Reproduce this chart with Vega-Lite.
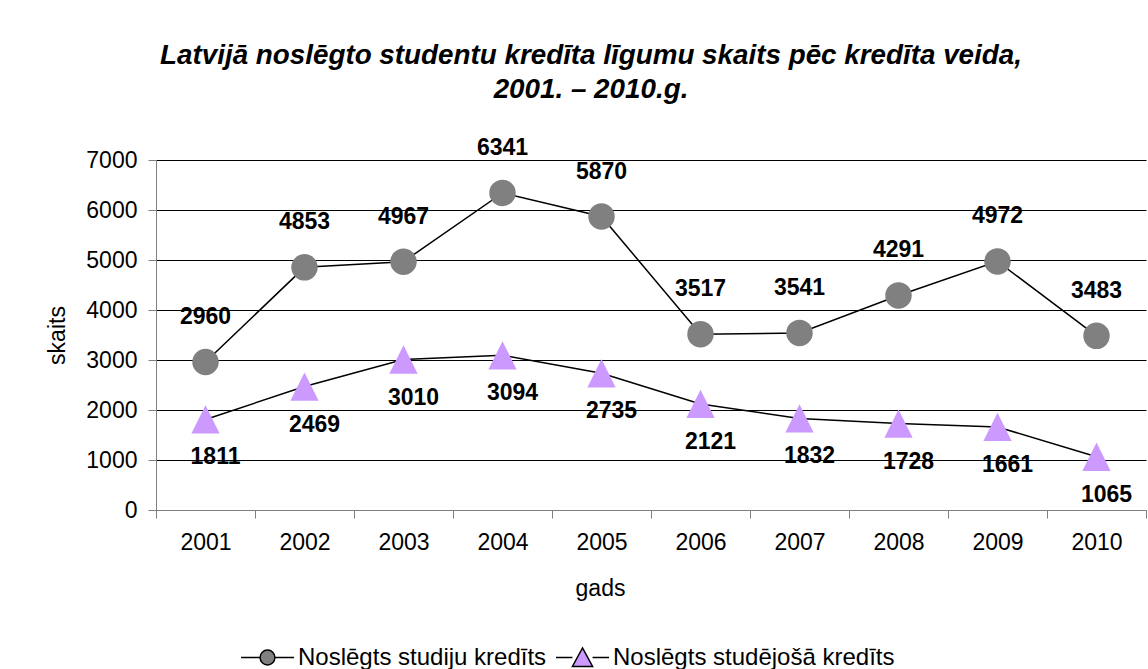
{
  "$schema": "https://vega.github.io/schema/vega-lite/v6.json",
  "width": 990,
  "height": 350,
  "autosize": {"type": "none"},
  "padding": {"left": 156, "top": 160, "right": 2, "bottom": 159},
  "background": "white",
  "config": {
    "font": "Liberation Sans",
    "view": {"stroke": null}
  },
  "title": {
    "text": ["Latvijā noslēgto studentu kredīta līgumu skaits pēc kredīta veida,", "2001. – 2010.g."],
    "font": "Liberation Sans",
    "fontSize": 27.8,
    "fontStyle": "italic",
    "fontWeight": "bold",
    "color": "black",
    "lineHeight": 34,
    "anchor": "middle",
    "frame": "group",
    "dx": -60,
    "offset": 33
  },
  "data": {
    "values": [
      {"year": "2001", "series": "Noslēgts studiju kredīts", "value": 2960},
      {"year": "2002", "series": "Noslēgts studiju kredīts", "value": 4853},
      {"year": "2003", "series": "Noslēgts studiju kredīts", "value": 4967},
      {"year": "2004", "series": "Noslēgts studiju kredīts", "value": 6341},
      {"year": "2005", "series": "Noslēgts studiju kredīts", "value": 5870},
      {"year": "2006", "series": "Noslēgts studiju kredīts", "value": 3517},
      {"year": "2007", "series": "Noslēgts studiju kredīts", "value": 3541},
      {"year": "2008", "series": "Noslēgts studiju kredīts", "value": 4291},
      {"year": "2009", "series": "Noslēgts studiju kredīts", "value": 4972},
      {"year": "2010", "series": "Noslēgts studiju kredīts", "value": 3483},
      {"year": "2001", "series": "Noslēgts studējošā kredīts", "value": 1811},
      {"year": "2002", "series": "Noslēgts studējošā kredīts", "value": 2469},
      {"year": "2003", "series": "Noslēgts studējošā kredīts", "value": 3010},
      {"year": "2004", "series": "Noslēgts studējošā kredīts", "value": 3094},
      {"year": "2005", "series": "Noslēgts studējošā kredīts", "value": 2735},
      {"year": "2006", "series": "Noslēgts studējošā kredīts", "value": 2121},
      {"year": "2007", "series": "Noslēgts studējošā kredīts", "value": 1832},
      {"year": "2008", "series": "Noslēgts studējošā kredīts", "value": 1728},
      {"year": "2009", "series": "Noslēgts studējošā kredīts", "value": 1661},
      {"year": "2010", "series": "Noslēgts studējošā kredīts", "value": 1065}
    ]
  },
  "encoding": {
    "x": {
      "field": "year",
      "type": "ordinal",
      "scale": {"type": "band", "paddingInner": 0, "paddingOuter": 0},
      "axis": {
        "title": "gads",
        "labelAngle": 0,
        "labelFontSize": 23,
        "labelColor": "black",
        "labelPadding": 13,
        "tickBand": "extent",
        "tickSize": 8,
        "tickColor": "#808080",
        "domainColor": "#808080",
        "titleFontSize": 23,
        "titleFontWeight": "normal",
        "titleColor": "black",
        "titleX": 444,
        "titleY": 85,
        "titleBaseline": "alphabetic",
        "grid": false
      }
    },
    "y": {
      "field": "value",
      "type": "quantitative",
      "scale": {"domain": [0, 7000], "nice": false},
      "axis": {
        "title": "skaits",
        "values": [0, 1000, 2000, 3000, 4000, 5000, 6000, 7000],
        "format": "d",
        "labelFontSize": 23,
        "labelColor": "black",
        "labelPadding": 11,
        "tickSize": 8,
        "tickColor": "#808080",
        "domainColor": "#808080",
        "grid": true,
        "gridColor": "#000000",
        "gridWidth": 1,
        "gridOpacity": 1,
        "titleFontSize": 23,
        "titleFontWeight": "normal",
        "titleColor": "black",
        "titleX": -99,
        "titleBaseline": "middle"
      }
    }
  },
  "layer": [
    {
      "mark": {"type": "line", "color": "black", "strokeWidth": 1.5},
      "encoding": {"detail": {"field": "series"}}
    },
    {
      "transform": [{"filter": "datum.series == 'Noslēgts studiju kredīts'"}],
      "mark": {"type": "point", "filled": true, "opacity": 1, "strokeWidth": 0, "shape": "circle", "size": 700},
      "encoding": {
        "color": {
          "field": "series",
          "type": "nominal",
          "scale": {"domain": ["Noslēgts studiju kredīts"], "range": ["#808080"]},
          "legend": {
            "orient": "none",
            "legendX": 84,
            "legendY": 470,
            "direction": "horizontal",
            "title": null,
            "labelFontSize": 24,
            "labelColor": "black",
            "labelOffset": 3,
            "labelLimit": 500,
            "symbolType": "M-1,0H-0.28M0.28,0H1M-0.28,0A0.28,0.28 0 1,0 0.28,0A0.28,0.28 0 1,0 -0.28,0Z",
            "symbolSize": 2809,
            "symbolStrokeColor": "black",
            "symbolStrokeWidth": 1.5,
            "symbolOpacity": 1
          }
        }
      }
    },
    {
      "transform": [{"filter": "datum.series == 'Noslēgts studējošā kredīts'"}],
      "mark": {"type": "point", "filled": true, "opacity": 1, "strokeWidth": 0, "shape": "M0,-1L1,1L-1,1Z", "size": 800},
      "encoding": {
        "fill": {
          "field": "series",
          "type": "nominal",
          "scale": {"domain": ["Noslēgts studējošā kredīts"], "range": ["#CC99FF"]},
          "legend": {
            "orient": "none",
            "legendX": 399,
            "legendY": 470,
            "direction": "horizontal",
            "title": null,
            "labelFontSize": 24,
            "labelColor": "black",
            "labelOffset": 3,
            "labelLimit": 500,
            "symbolType": "M-1,0H-0.38M0.38,0H1M0,-0.36L0.38,0.34L-0.38,0.34Z",
            "symbolSize": 2809,
            "symbolStrokeColor": "black",
            "symbolStrokeWidth": 1.5,
            "symbolOpacity": 1
          }
        }
      }
    },
    {
      "transform": [{"filter": "datum.series == 'Noslēgts studiju kredīts'"}],
      "mark": {"type": "text", "dy": -45, "fontSize": 23, "fontWeight": "bold", "color": "black", "baseline": "middle"},
      "encoding": {"text": {"field": "value", "type": "quantitative", "format": "d"}}
    },
    {
      "transform": [{"filter": "datum.series == 'Noslēgts studējošā kredīts'"}],
      "mark": {"type": "text", "dy": 38, "dx": 10, "fontSize": 23, "fontWeight": "bold", "color": "black", "baseline": "middle"},
      "encoding": {"text": {"field": "value", "type": "quantitative", "format": "d"}}
    }
  ]
}
